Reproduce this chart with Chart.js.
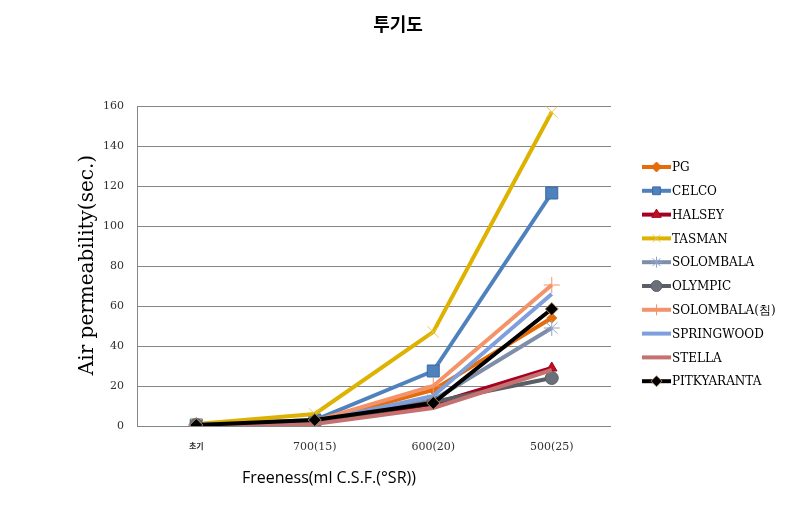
<!DOCTYPE html>
<html>
<head>
<meta charset="utf-8">
<script src="https://cdn.jsdelivr.net/npm/chart.js@4.4.1/dist/chart.umd.min.js"></script>
<style>
  html, body { margin: 0; padding: 0; background: #fff; }
  #wrap { width: 794px; height: 506px; }
</style>
</head>
<body>
<div id="wrap"><canvas id="chart" width="794" height="506"></canvas></div>
<script>
// categories and series
const categories = ['초기', '700(15)', '600(20)', '500(25)'];
const seriesNames = ['PG', 'CELCO', 'HALSEY', 'TASMAN', 'SOLOMBALA', 'OLYMPIC',
  'SOLOMBALA(침)', 'SPRINGWOOD', 'STELLA', 'PITKYARANTA'];
const pg          = [0.5, 2, 18, 54];
const celco       = [0.5, 3, 27.5, 116.5];
const halsey      = [0.5, 2, 11, 29];
const tasman      = [1, 6, 47, 157];
const solombala   = [0.5, 2, 13, 49];
const olympic     = [0.5, 2, 12, 24];
const solombalaCh = [0.5, 2.5, 20, 70.5];
const springwood  = [0.5, 2, 15, 66];
const stella      = [0.3, 1, 9, 28];
const pitkyaranta = [0.5, 3, 11.5, 58.5];
const yTicks = [0, 20, 40, 60, 80, 100, 120, 140, 160];

const seriesValues = [pg, celco, halsey, tasman, solombala, olympic,
  solombalaCh, springwood, stella, pitkyaranta];

// look of each series
const styles = [
  { color: '#E46C0A', point: 'rectRot',  r: 5, fill: '#E46C0A', border: '#E46C0A' },
  { color: '#4F81BD', point: 'rect',     r: 8.5, fill: '#4F81BD', border: '#3A6AA6' },
  { color: '#A50021', point: 'triangle', r: 6, fill: '#C0101E', border: '#A50021' },
  { color: '#DDB200', point: 'crossRot', r: 8, fill: '#DDB200', border: '#E8C84A' },
  { color: '#7E8EAA', point: 'star',     r: 8, fill: '#7E8EAA', border: '#8FA3C6' },
  { color: '#5A5E66', point: 'circle',   r: 6.5, fill: '#6A707A', border: '#5A5E66' },
  { color: '#F4936A', point: 'cross',    r: 8, fill: '#F4936A', border: '#F4936A' },
  { color: '#7F9EDC', point: 'line',     r: 0, fill: '#7F9EDC', border: '#7F9EDC' },
  { color: '#C47270', point: 'line',     r: 0, fill: '#C47270', border: '#C47270' },
  { color: '#000000', point: 'rectRot',  r: 6.5, fill: '#000000', border: '#B08A5A' }
];

const datasets = seriesNames.map((name, i) => ({
  label: name,
  data: seriesValues[i],
  borderColor: styles[i].color,
  backgroundColor: styles[i].fill,
  borderWidth: 4,
  pointStyle: styles[i].point,
  pointRadius: styles[i].r,
  pointBackgroundColor: styles[i].fill,
  pointBorderColor: styles[i].border,
  pointBorderWidth: 1,
  tension: 0,
  order: seriesNames.length - i   // last series drawn on top
}));

// axis titles, chart title and legend drawn as text
const extras = {
  id: 'extras',
  afterDraw(chart) {
    const c = chart.ctx;
    c.save();
    c.fillStyle = '#000';
    c.textAlign = 'center';
    c.textBaseline = 'middle';
    c.font = 'bold 18px "Noto Sans CJK KR"';
    c.fillText('투기도', 398, 24);

    c.font = '16px "Open Sans"';
    c.fillText('Freeness(ml C.S.F.(\u00B0SR))', 329, 478);

    c.translate(88, 265);
    c.rotate(-Math.PI / 2);
    c.font = '20px "DejaVu Serif"';
    c.fillText('Air permeability(sec.)', 0, 0);
    c.restore();

    // legend
    c.save();
    chart.data.datasets.forEach((ds, i) => {
      const y = 167 + i * 23.8;
      c.strokeStyle = ds.borderColor;
      c.lineWidth = 4;
      c.beginPath();
      c.moveTo(642, y);
      c.lineTo(671, y);
      c.stroke();
      if (ds.pointRadius > 0) {
        c.fillStyle = ds.pointBackgroundColor;
        c.strokeStyle = ds.pointBorderColor;
        c.lineWidth = 1;
        Chart.helpers.drawPoint(c, {
          pointStyle: ds.pointStyle, radius: Math.min(ds.pointRadius, 5.5),
          rotation: 0, borderWidth: 1
        }, 656.5, y);
      }
      c.fillStyle = '#000';
      c.textAlign = 'left';
      c.textBaseline = 'middle';
      c.font = '12px "DejaVu Serif"';
      c.fillText(ds.label, 672, y + 1);
    });
    c.restore();
  }
};

new Chart(document.getElementById('chart').getContext('2d'), {
  type: 'line',
  data: { labels: categories, datasets: datasets },
  options: {
    responsive: false,
    animation: false,
    layout: { padding: { left: 0, right: 183, top: 106, bottom: 0 } },
    plugins: {
      legend: { display: false },
      title: { display: false },
      tooltip: { enabled: false }
    },
    scales: {
      x: {
        offset: true,
        grid: { display: false, drawTicks: false },
        border: { display: false },
        ticks: {
          padding: 15,
          color: '#303030',
          font: ctx => ctx.index === 0
            ? { family: '"Noto Sans CJK KR"', size: 8, weight: 'bold' }
            : { family: '"DejaVu Serif"', size: 11 }
        },
        afterFit: s => { s.height = 80; }
      },
      y: {
        min: 0,
        max: 160,
        afterBuildTicks: s => { s.ticks = yTicks.map(v => ({ value: v })); },
        grid: { color: '#868686', lineWidth: 1, drawTicks: false },
        border: { display: true, color: '#868686' },
        ticks: {
          padding: 13,
          color: '#303030',
          font: { family: '"DejaVu Serif"', size: 11 }
        },
        afterFit: s => { s.width = 137; }
      }
    }
  },
  plugins: [extras]
});
</script>
</body>
</html>
